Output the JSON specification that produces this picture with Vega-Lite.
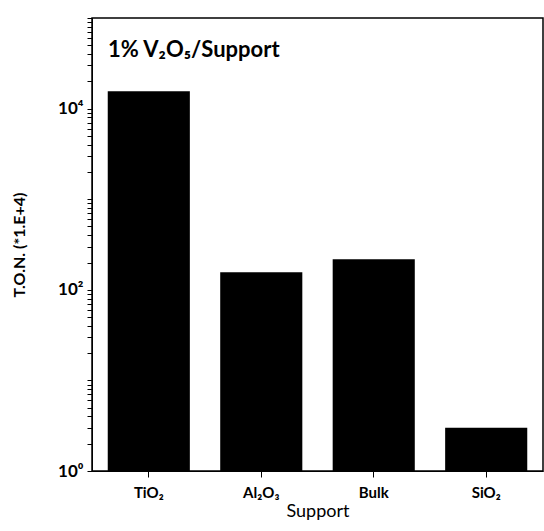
{
  "$schema": "https://vega.github.io/schema/vega-lite/v6.json",
  "autosize": "none",
  "width": 451,
  "height": 453,
  "padding": {"left": 92, "top": 18, "right": 1, "bottom": 60},
  "background": "white",
  "view": {"stroke": "black", "strokeWidth": 1.5},
  "title": {
    "text": "1% V₂O₅/Support",
    "frame": "group",
    "anchor": "start",
    "orient": "top",
    "offset": -44,
    "dx": 16,
    "fontSize": 22,
    "fontWeight": "bold",
    "font": "Lato",
    "color": "black"
  },
  "data": {
    "values": [
      {"support": "TiO₂", "ton": 15500},
      {"support": "Al₂O₃", "ton": 156},
      {"support": "Bulk", "ton": 218},
      {"support": "SiO₂", "ton": 3.0}
    ]
  },
  "mark": {"type": "bar", "fill": "black"},
  "encoding": {
    "x": {
      "field": "support",
      "type": "nominal",
      "sort": null,
      "scale": {"paddingInner": 0.27, "paddingOuter": 0.14},
      "axis": {
        "title": "Support",
        "titleFont": "Lato",
        "titleFontSize": 18,
        "titleFontWeight": "normal",
        "titleColor": "black",
        "titlePadding": 2,
        "labelAngle": 0,
        "labelFont": "Lato",
        "labelFontSize": 15,
        "labelFontWeight": "bold",
        "labelColor": "black",
        "labelPadding": 8,
        "domainColor": "black",
        "tickColor": "black",
        "tickSize": 6
      }
    },
    "y": {
      "field": "ton",
      "type": "quantitative",
      "stack": null,
      "scale": {"type": "log", "domain": [1, 100000], "nice": false},
      "axis": {
        "grid": false,
        "title": "T.O.N. (*1.E+4)",
        "titleFont": "Lato",
        "titleFontSize": 16,
        "titleFontWeight": "bold",
        "titleColor": "black",
        "titlePadding": 30,
        "labelFont": "Lato",
        "labelFontSize": 17,
        "labelFontWeight": "bold",
        "labelColor": "black",
        "values": [1, 2, 3, 4, 5, 6, 7, 8, 9, 10, 20, 30, 40, 50, 60, 70, 80, 90, 100, 200, 300, 400, 500, 600, 700, 800, 900, 1000, 2000, 3000, 4000, 5000, 6000, 7000, 8000, 9000, 10000, 20000, 30000, 40000, 50000, 60000, 70000, 80000, 90000, 100000],
        "labelExpr": "datum.value == 1 ? '10⁰' : datum.value == 100 ? '10²' : datum.value == 10000 ? '10⁴' : ''",
        "domainColor": "black",
        "tickColor": "black",
        "tickSize": 5,
        "labelPadding": 4
      }
    }
  }
}
